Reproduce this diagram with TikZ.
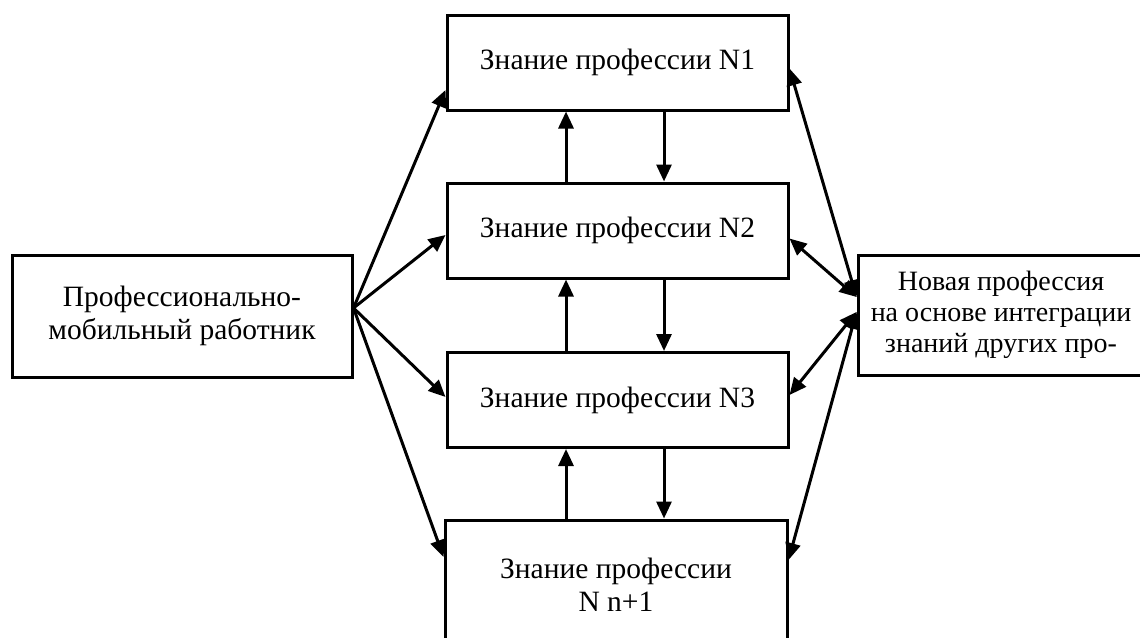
\documentclass[tikz,border=0pt]{standalone}
\usepackage{fontspec}
\setmainfont{Liberation Serif}
\usetikzlibrary{arrows.meta}
\begin{document}
\begin{tikzpicture}[x=0.5pt,y=-0.5pt,
  box/.style={draw,line width=1.5pt,align=center,inner sep=0pt,font=\fontsize{14.75}{16.25}\selectfont},
  tip/.tip={Triangle[length=8.5pt,width=7.5pt]},
  arr/.style={line width=1.5pt,-tip},
  darr/.style={line width=1.5pt,tip-tip}]
\useasboundingbox (0,0) rectangle (1140,637);
\clip (0,0) rectangle (1140,637);
\node[box,minimum width=170pt,minimum height=61pt] (L) at (182,316) {Профессионально-\\мобильный работник};
\node[box,minimum width=170.5pt,minimum height=47.5pt] (N1) at (617.5,62.5) {Знание профессии N1};
\node[box,minimum width=170.5pt,minimum height=47.5pt] (N2) at (617.5,230.5) {Знание профессии N2};
\node[box,minimum width=170.5pt,minimum height=47.5pt] (N3) at (617.5,400) {Знание профессии N3};
\node[box,minimum width=171pt,minimum height=65pt] (N4) at (616,585) {Знание профессии\\N n+1};
\node[box,minimum width=143pt,minimum height=60pt,font=\fontsize{14}{15.5}\selectfont] (R) at (1001,315) {Новая профессия\\на основе интеграции\\знаний других про-};
\coordinate (ux) at (566,0);
\coordinate (dx) at (664,0);
% vertical links
\draw[arr] (N2.north -| ux) -- (N1.south -| ux);
\draw[arr] (N1.south -| dx) -- (N2.north -| dx);
\draw[arr] (N3.north -| ux) -- (N2.south -| ux);
\draw[arr] (N2.south -| dx) -- (N3.north -| dx);
\draw[arr] (N4.north -| ux) -- (N3.south -| ux);
\draw[arr] (N3.south -| dx) -- (N4.north -| dx);
% left fan
\coordinate (Lp) at ([yshift=4pt]L.east);
\draw[arr] (Lp) -- ([yshift=-13.75pt]N1.west);
\draw[arr] (Lp) -- ([yshift=-2.25pt]N2.west);
\draw[arr] (Lp) -- ([yshift=1.5pt]N3.west);
\draw[arr] (Lp) -- ([yshift=14pt]N4.west);
% right fan
\coordinate (Ra) at ([yshift=9pt]R.west);
\coordinate (Rb) at ([yshift=1.5pt]R.west);
\draw[darr] ([yshift=-3pt]N1.east) -- (Ra);
\draw[darr] ([yshift=-4pt]N2.east) -- (Ra);
\draw[darr] ([yshift=2.5pt]N3.east) -- (Rb);
\draw[darr] ([yshift=12.5pt]N4.east) -- (Rb);
\end{tikzpicture}
\end{document}
